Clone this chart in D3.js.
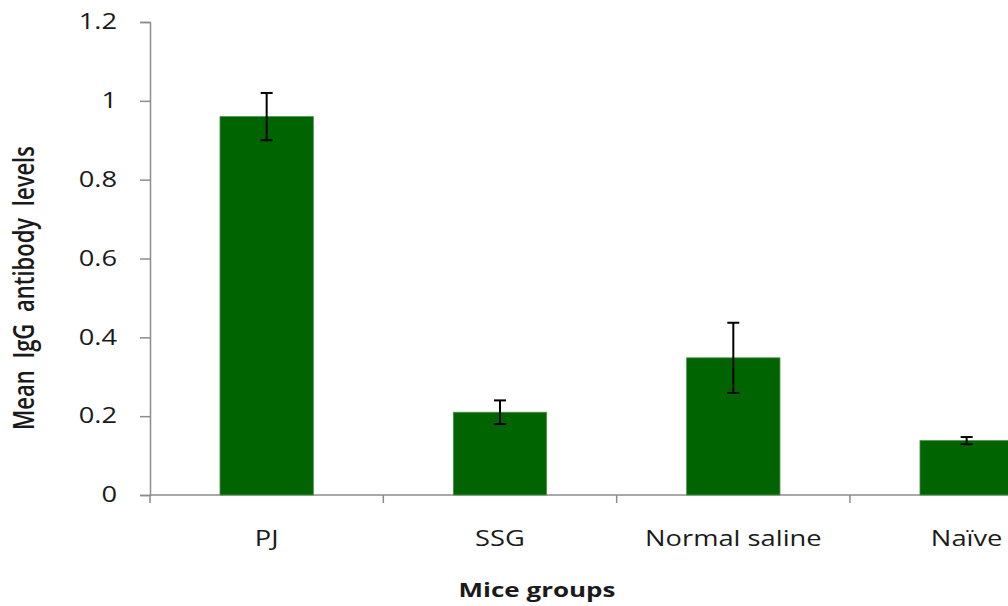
<!DOCTYPE html>
<meta charset="utf-8">
<script src="https://d3js.org/d3.v7.min.js"></script>
<style>
  body { margin: 0; background: #fff; }
  text { font-family: "Open Sans", sans-serif; fill: #1a1a1a; }
</style>
<div id="chart"></div>
<script>

// data
var groups = ["PJ", "SSG", "Normal saline", "Naïve"];
var means  = [0.96, 0.21, 0.348, 0.138];
var errs   = [0.06, 0.03, 0.089, 0.009];
var yTicks = [0, 0.2, 0.4, 0.6, 0.8, 1, 1.2];

var W = 1008, H = 606;
var mLeft = 150, mRight = 1083.3, mTop = 22, mBottom = 495;
var sx = 1.3; // the source image is stretched sideways

var svg = d3.select("#chart").append("svg")
    .attr("width", W)
    .attr("height", H);

var x = d3.scaleBand()
    .domain(groups)
    .range([mLeft, mRight])
    .paddingInner(0.6)
    .paddingOuter(0.3);

var y = d3.scaleLinear()
    .domain([0, 1.2])
    .range([mBottom, mTop]);

// Y axis
var yAxis = svg.append("g")
    .attr("transform", "translate(" + mLeft + ",0)")
    .call(d3.axisLeft(y).tickValues(yTicks).tickSize(10).tickPadding(0)
      .tickFormat(function(d){ return d3.format("")(d) }));
yAxis.select(".domain").attr("stroke", "#8c8c8c").attr("stroke-width", 1.5);
yAxis.selectAll(".tick line").attr("stroke", "#8c8c8c").attr("stroke-width", 1.5);
yAxis.selectAll(".tick text")
    .attr("x", -33 / sx)
    .attr("transform", "scale(" + sx + ",1)")
    .style("font-size", "21px")
    .style("font-family", "Open Sans");

// X axis line and boundary ticks
svg.append("line")
    .attr("x1", mLeft).attr("x2", W)
    .attr("y1", mBottom).attr("y2", mBottom)
    .attr("stroke", "#8c8c8c").attr("stroke-width", 1.5);
svg.selectAll(".xtick")
  .data(d3.range(groups.length + 1))
  .enter().append("line")
    .attr("class", "xtick")
    .attr("x1", function(i){ return mLeft + i * x.step() })
    .attr("x2", function(i){ return mLeft + i * x.step() })
    .attr("y1", mBottom).attr("y2", mBottom + 8)
    .attr("stroke", "#8c8c8c").attr("stroke-width", 1.5);

// category labels
svg.selectAll(".xlab")
  .data(groups)
  .enter().append("text")
    .attr("class", "xlab")
    .attr("text-anchor", "middle")
    .attr("transform", function(d){
      return "translate(" + (x(d) + x.bandwidth() / 2) + "," + (mBottom + 51) + ") scale(" + sx + ",1)" })
    .style("font-size", "21px")
    .text(function(d){ return d });

// bars
svg.selectAll(".bar")
  .data(groups)
  .enter().append("rect")
    .attr("class", "bar")
    .attr("x", function(d){ return x(d) })
    .attr("width", x.bandwidth())
    .attr("y", function(d, i){ return y(means[i]) })
    .attr("height", function(d, i){ return y(0) - y(means[i]) })
    .attr("fill", "#006400")
    .attr("stroke", "#4d8f4d")
    .attr("stroke-width", 0.8);

// error bars
var eb = svg.selectAll(".err")
  .data(groups)
  .enter().append("g")
    .attr("class", "err")
    .attr("transform", function(d){ return "translate(" + (x(d) + x.bandwidth() / 2) + ",0)" });
eb.append("line")
    .attr("y1", function(d, i){ return y(means[i] - errs[i]) })
    .attr("y2", function(d, i){ return y(means[i] + errs[i]) })
    .attr("stroke", "#000").attr("stroke-width", 2);
eb.append("line")
    .attr("x1", -6).attr("x2", 6)
    .attr("y1", function(d, i){ return y(means[i] + errs[i]) })
    .attr("y2", function(d, i){ return y(means[i] + errs[i]) })
    .attr("stroke", "#000").attr("stroke-width", 2);
eb.append("line")
    .attr("x1", -6).attr("x2", 6)
    .attr("y1", function(d, i){ return y(means[i] - errs[i]) })
    .attr("y2", function(d, i){ return y(means[i] - errs[i]) })
    .attr("stroke", "#000").attr("stroke-width", 2);

// axis titles
svg.append("text")
    .attr("text-anchor", "middle")
    .attr("transform", "translate(34,288) rotate(-90) scale(1," + sx + ")")
    .style("font-size", "22px")
    .style("font-weight", 600)
    .style("word-spacing", "6px")
    .text("Mean IgG antibody levels");

svg.append("text")
    .attr("text-anchor", "middle")
    .attr("transform", "translate(537,597) scale(" + sx + ",1)")
    .style("font-size", "20px")
    .style("font-weight", 700)
    .text("Mice groups");

</script>
